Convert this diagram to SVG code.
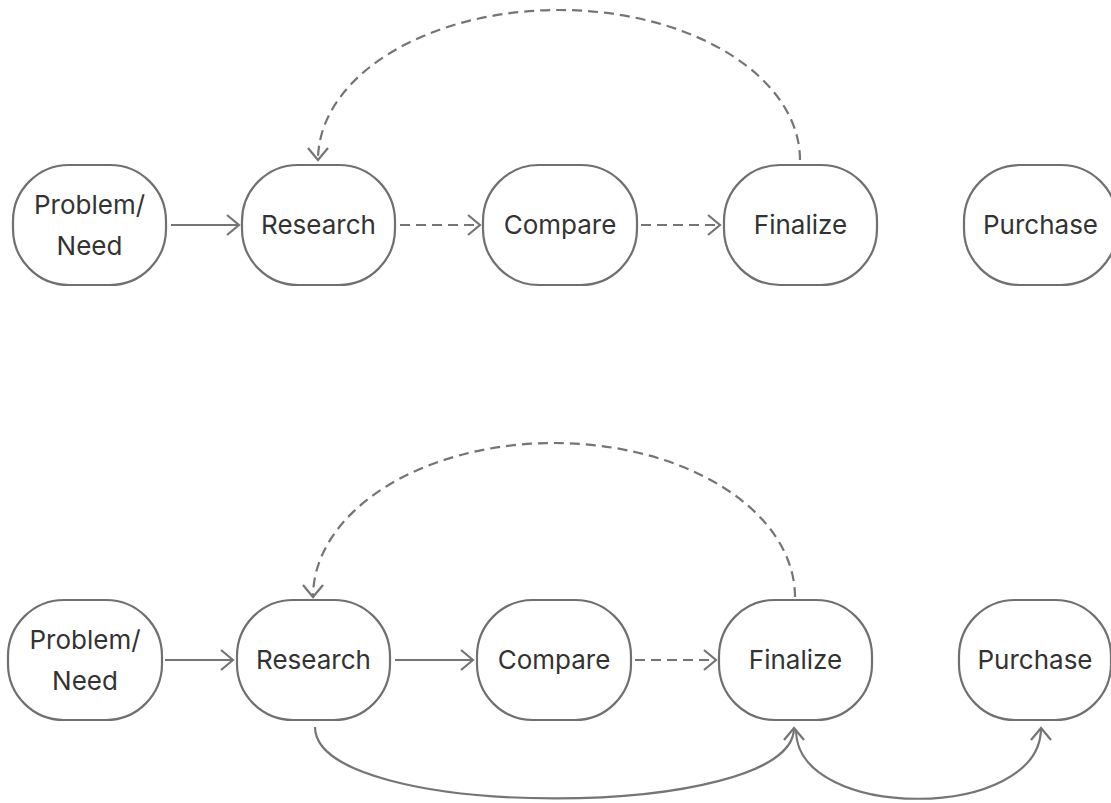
<svg xmlns="http://www.w3.org/2000/svg" width="1111" height="803" viewBox="0 0 1111 803">
<style>
.node rect{fill:#fff;stroke:#707070;stroke-width:2.2}
.node text{font-family:Inter,"Noto Sans",sans-serif;font-size:26px;fill:#333;text-anchor:middle}
.edge{fill:none;stroke:#757575;stroke-width:2.2}
.dash{stroke-dasharray:10 6}
</style>
<defs>
<marker id="arr" markerUnits="userSpaceOnUse" markerWidth="30" markerHeight="30" viewBox="-15 -15 30 30" refX="0" refY="0" orient="auto">
<path d="M-12,-10 L0,0 L-12,10" fill="none" stroke="#757575" stroke-width="2.2"/>
</marker>
</defs>
<rect width="1111" height="803" fill="#fff"/>
<g id="connectors">
<line class="edge" x1="171" y1="225" x2="239" y2="225" marker-end="url(#arr)"/>
<line class="edge dash" x1="400" y1="225" x2="480" y2="225" marker-end="url(#arr)"/>
<line class="edge dash" x1="641" y1="225" x2="720" y2="225" marker-end="url(#arr)"/>
<path class="edge dash" d="M800,160 A241,150 0 0 0 318,160" marker-end="url(#arr)"/>
<line class="edge" x1="165" y1="660" x2="233" y2="660" marker-end="url(#arr)"/>
<line class="edge" x1="395" y1="660" x2="473" y2="660" marker-end="url(#arr)"/>
<line class="edge dash" x1="635" y1="660" x2="716" y2="660" marker-end="url(#arr)"/>
<path class="edge dash" d="M795,597 A241,154 0 0 0 313,597" marker-end="url(#arr)"/>
<path class="edge" d="M315,727 C315,822 794,822 794,728" marker-end="url(#arr)"/>
<path class="edge" d="M796,730 C796,822 1041,822 1041,728" marker-end="url(#arr)"/>
</g>
<g id="n1" class="node"><rect x="13" y="165" width="153" height="120" rx="56"/><text x="89.5" y="214">Problem/</text><text x="89.5" y="255">Need</text></g>
<g id="n2" class="node"><rect x="242" y="165" width="153" height="120" rx="56"/><text x="318.5" y="234">Research</text></g>
<g id="n3" class="node"><rect x="483" y="165" width="154" height="120" rx="56"/><text x="560" y="234">Compare</text></g>
<g id="n4" class="node"><rect x="724" y="165" width="153" height="120" rx="56"/><text x="800.5" y="234">Finalize</text></g>
<g id="n5" class="node"><rect x="964" y="165" width="153" height="120" rx="56"/><text x="1040.5" y="234">Purchase</text></g>
<g id="m1" class="node"><rect x="8" y="600" width="154" height="120" rx="56"/><text x="85" y="649">Problem/</text><text x="85" y="690">Need</text></g>
<g id="m2" class="node"><rect x="237" y="600" width="153" height="120" rx="56"/><text x="313.5" y="669">Research</text></g>
<g id="m3" class="node"><rect x="477" y="600" width="154" height="120" rx="56"/><text x="554" y="669">Compare</text></g>
<g id="m4" class="node"><rect x="719" y="600" width="153" height="120" rx="56"/><text x="795.5" y="669">Finalize</text></g>
<g id="m5" class="node"><rect x="959" y="600" width="152" height="120" rx="56"/><text x="1035" y="669">Purchase</text></g>
</svg>
